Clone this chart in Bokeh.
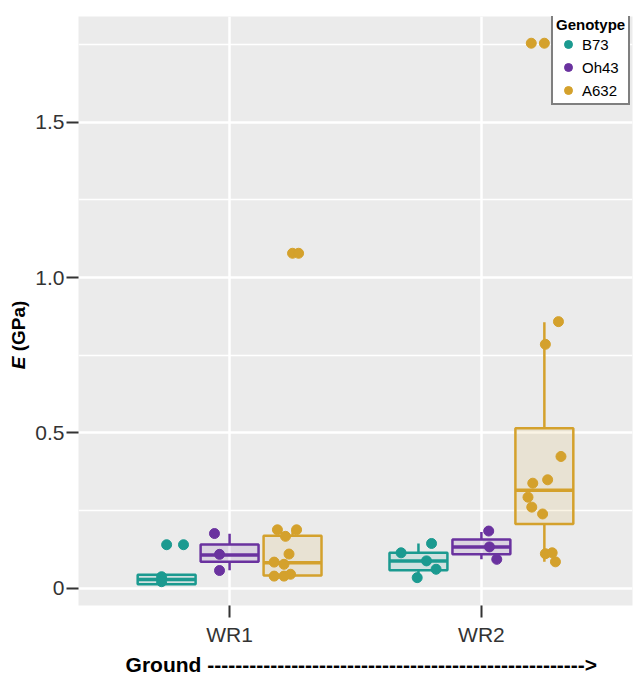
from bokeh.plotting import figure
from bokeh.layouts import row
from bokeh.models import (ColumnDataSource, FixedTicker, Legend, LegendItem, Range1d, Div)
from bokeh.embed import file_html
from bokeh.resources import INLINE

# ---------------- data ----------------
sites = ["WR1", "WR2"]
genotypes = ["B73", "Oh43", "A632"]

e_wr1_b73 = [0.140, 0.037, 0.021]
jit_wr1_b73 = [0.067, -0.020, -0.020]
e_wr1_oh43 = [0.176, 0.109, 0.057]
jit_wr1_oh43 = [-0.060, -0.040, -0.040]
e_wr1_a632 = [0.188, 0.188, 0.167, 0.110, 0.084, 0.077, 0.039, 0.039, 0.045, 1.078]
jit_wr1_a632 = [-0.060, 0.016, -0.028, -0.014, -0.073, -0.034, -0.073, -0.034, -0.008, 0.024]
e_wr2_b73 = [0.114, 0.144, 0.088, 0.061, 0.034]
jit_wr2_b73 = [-0.069, 0.052, 0.032, 0.070, -0.005]
e_wr2_oh43 = [0.184, 0.133, 0.093]
jit_wr2_oh43 = [0.029, 0.032, 0.061]
e_wr2_a632 = [0.858, 0.785, 0.424, 0.349, 0.338, 0.293, 0.261, 0.239, 0.111, 0.114, 0.085, 1.754]
jit_wr2_a632 = [0.056, 0.004, 0.066, 0.013, -0.046, -0.065, -0.050, -0.007, 0.004, 0.031, 0.044, -0.052]

# box statistics per (site, genotype)
box_site = ["WR1", "WR1", "WR1", "WR2", "WR2", "WR2"]
box_geno = ["B73", "Oh43", "A632", "B73", "Oh43", "A632"]
box_lo = [0.013, 0.058, 0.039, 0.034, 0.093, 0.085]
box_q1 = [0.013, 0.085, 0.041, 0.058, 0.109, 0.207]
box_med = [0.028, 0.107, 0.082, 0.088, 0.133, 0.315]
box_q3 = [0.043, 0.141, 0.169, 0.114, 0.157, 0.515]
box_hi = [0.045, 0.175, 0.188, 0.144, 0.181, 0.856]
out_site = ["WR1", "WR1", "WR2"]
out_geno = ["B73", "A632", "A632"]
out_val = [0.140, 1.078, 1.754]

y_ticks = [0, 0.5, 1.0, 1.5]
y_minor = [0.25, 0.75, 1.25, 1.75]
y_labels = {0: "0", 0.5: "0.5", 1: "1.0", 1.5: "1.5"}

# ---------------- styling ----------------
COLORS = {"B73": "#1b9a90", "Oh43": "#6a329f", "A632": "#d4a12c"}
DODGE = 0.25
BOX_W = 0.23
FONT = "Liberation Sans"
X0, X1 = 0.4, 2.6
Y0, Y1 = -0.0556, 1.84
TITLE_W = 30

site_x = {s: i + 1 for i, s in enumerate(sites)}
geno_off = {g: (j - 1) * DODGE for j, g in enumerate(genotypes)}

p = figure(width=637 - TITLE_W, height=678, output_backend="svg", toolbar_location=None,
           x_range=Range1d(X0, X1), y_range=Range1d(Y0, Y1), margin=0,
           min_border_left=78 - TITLE_W, min_border_right=5, min_border_top=16, min_border_bottom=70)
p.background_fill_color = "#EBEBEB"
p.border_fill_color = "white"
p.outline_line_color = None

# axes
p.xaxis.ticker = FixedTicker(ticks=[1, 2])
p.xaxis.major_label_overrides = {1: "WR1", 2: "WR2"}
p.yaxis.ticker = FixedTicker(ticks=y_ticks, minor_ticks=y_minor)
p.yaxis.major_label_overrides = y_labels
for ax in (p.xaxis[0], p.yaxis[0]):
    ax.axis_line_color = None
    ax.major_tick_in = 0
    ax.major_tick_out = 12
    ax.major_tick_line_width = 2
    ax.major_tick_line_color = "#333333"
    ax.minor_tick_line_color = None
    ax.major_label_text_font = FONT
    ax.major_label_text_font_size = "21px"
    ax.major_label_text_color = "#333333"
p.yaxis.major_label_standoff = 2
p.xaxis.major_label_standoff = 5

p.xaxis.axis_label = "\u00a0\u00a0Ground " + "-" * 54 + ">"
p.xaxis.axis_label_text_font = FONT
p.xaxis.axis_label_text_font_style = "bold"
p.xaxis.axis_label_text_font_size = "21px"
p.xaxis.axis_label_text_color = "black"
p.xaxis.axis_label_standoff = 4

# grid
p.xgrid.grid_line_color = "white"
p.xgrid.grid_line_width = 2.5
p.ygrid.grid_line_color = "white"
p.ygrid.grid_line_width = 2.5
p.ygrid.minor_grid_line_color = "white"
p.ygrid.minor_grid_line_width = 1.5

# boxes
bx = [site_x[s] + geno_off[g] for s, g in zip(box_site, box_geno)]
bc = [COLORS[g] for g in box_geno]
bsrc = ColumnDataSource(dict(x=bx, x0=[v - BOX_W / 2 for v in bx], x1=[v + BOX_W / 2 for v in bx],
                             lo=box_lo, q1=box_q1, med=box_med, q3=box_q3, hi=box_hi, c=bc))
p.segment(x0="x", x1="x", y0="q3", y1="hi", line_color="c", line_width=2.5, source=bsrc)
p.segment(x0="x", x1="x", y0="lo", y1="q1", line_color="c", line_width=2.5, source=bsrc)
p.vbar(x="x", width=BOX_W, bottom="q1", top="q3", fill_color="c", fill_alpha=0.12,
       line_color="c", line_width=2.5, source=bsrc)
p.segment(x0="x0", x1="x1", y0="med", y1="med", line_color="c", line_width=3.5, source=bsrc)

# outliers (drawn at box centre)
osrc = ColumnDataSource(dict(x=[site_x[s] + geno_off[g] for s, g in zip(out_site, out_geno)],
                             y=out_val, c=[COLORS[g] for g in out_geno]))
p.scatter(x="x", y="y", size=10, fill_color="c", line_color="c", source=osrc)

# jittered points
groups = {
    ("WR1", "B73"): (e_wr1_b73, jit_wr1_b73),
    ("WR1", "Oh43"): (e_wr1_oh43, jit_wr1_oh43),
    ("WR1", "A632"): (e_wr1_a632, jit_wr1_a632),
    ("WR2", "B73"): (e_wr2_b73, jit_wr2_b73),
    ("WR2", "Oh43"): (e_wr2_oh43, jit_wr2_oh43),
    ("WR2", "A632"): (e_wr2_a632, jit_wr2_a632),
}
legend_items = []
for g in genotypes:
    xs, ys = [], []
    for s in sites:
        vals, jit = groups[(s, g)]
        xs += [site_x[s] + geno_off[g] + j for j in jit]
        ys += list(vals)
    r = p.scatter(xs, ys, size=10, fill_color=COLORS[g], line_color=COLORS[g])
    legend_items.append(LegendItem(label=g, renderers=[r]))

legend = Legend(items=legend_items, title="Genotype", location=(473, 500))
legend.title_text_font = FONT
legend.title_text_font_style = "bold"
legend.title_text_font_size = "15px"
legend.title_text_color = "black"
legend.title_standoff = 1
legend.label_text_font = FONT
legend.label_text_font_size = "15px"
legend.label_text_color = "black"
legend.label_standoff = 2
legend.glyph_width = 24
legend.glyph_height = 20
legend.label_height = 20
legend.spacing = 3
legend.padding = 3
legend.margin = 0
legend.border_line_color = "black"
legend.border_line_width = 2
legend.background_fill_color = "white"
legend.background_fill_alpha = 1
p.add_layout(legend)

# y-axis title (italic bold E + bold (GPa)), rotated, in a narrow column left of the plot
ytitle = Div(width=TITLE_W, height=678, margin=0, text=(
    '<div style="position:relative;width:30px;height:678px;">'
    '<div style="position:absolute;left:17.5px;top:335px;'
    'transform:translate(-50%,-50%) rotate(-90deg);white-space:nowrap;'
    "font-family:'Liberation Sans';font-weight:bold;font-size:19px;color:black;line-height:1;\">"
    '<i>E</i> (GPa)</div></div>'))

open("out.html", "w").write(file_html(row(ytitle, p, spacing=0), INLINE))
